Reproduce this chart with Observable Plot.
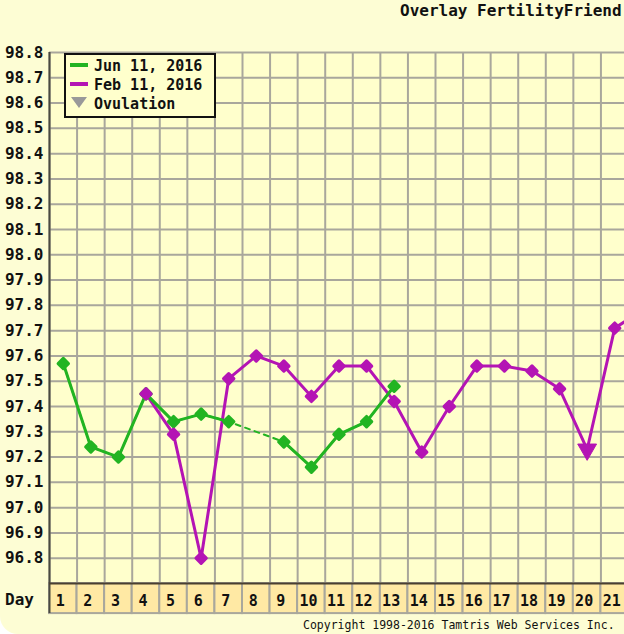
<!DOCTYPE html>
<html>
<head>
<meta charset="utf-8">
<script src="https://cdn.jsdelivr.net/npm/d3@7"></script>
<script src="https://cdn.jsdelivr.net/npm/@observablehq/plot@0.6"></script>
<style>
  html, body { margin: 0; padding: 0; background: #ffffff; overflow: hidden; }
  #wrap { position: relative; width: 624px; height: 634px; overflow: hidden;
          background: #fdfdd4; border-bottom-left-radius: 18px;
          font-family: "DejaVu Sans Mono", monospace; font-weight: bold; color: #111; }
  #title { position: absolute; left: 400px; top: 1px; font-size: 16px; white-space: nowrap; }
  #chart { position: absolute; left: 0; top: 30px; }
  #daylbl { position: absolute; left: 5px; top: 590px; font-size: 16px; }
  #copy { position: absolute; left: 303px; top: 618px; font-size: 11.5px; font-weight: normal; white-space: nowrap; }
  #legend { position: absolute; left: 64px; top: 53px; width: 148px; height: 61px;
            border: 2px solid #111; background: #ffffcc; font-size: 15px; }
  .row { position: absolute; left: 4px; height: 18px; line-height: 18px; white-space: nowrap; }
  .sw { display: inline-block; width: 18px; height: 4px; vertical-align: middle; margin-right: 6px; position: relative; top: -2px; }
  .tri { display: inline-block; width: 0; height: 0; border-left: 8px solid transparent; border-right: 8px solid transparent;
         border-top: 11px solid #999; margin: 0 7px 0 1px; vertical-align: middle; position: relative; top: -2px; }
</style>
</head>
<body>
<div id="wrap">
  <div id="title">Overlay FertilityFriend</div>
  <div id="chart"></div>
  <div id="daylbl">Day</div>
  <div id="legend"></div>
  <div id="copy">Copyright 1998-2016 Tamtris Web Services Inc.</div>
</div>
<script>
// ---- data ----
const dayLabels = [1,2,3,4,5,6,7,8,9,10,11,12,13,14,15,16,17,18,19,20,21];
const yTickValues = [96.8,96.9,97.0,97.1,97.2,97.3,97.4,97.5,97.6,97.7,97.8,97.9,98.0,98.1,98.2,98.3,98.4,98.5,98.6,98.7,98.8];

const junDays  = [1,2,3,4,5,6,7,8,9,10,11,12,13];
const junTemps = [97.57,97.24,97.20,97.45,97.34,97.37,97.34,null,97.26,97.16,97.29,97.34,97.48];

const febDays  = [4,5,6,7,8,9,10,11,12,13,14,15,16,17,18,19,20,21,22];
const febTemps = [97.45,97.29,96.80,97.51,97.60,97.56,97.44,97.56,97.56,97.42,97.22,97.40,97.56,97.56,97.54,97.47,97.23,97.71,97.78];

const ovulationDays = [20];   // Feb 11, 2016 cycle

const seriesNames = ["Jun 11, 2016", "Feb 11, 2016", "Ovulation"];
const seriesColors = ["#22b422", "#b414b4", "#999999"];

// ---- build tables ----
const jun = junDays.map((d, i) => ({day: d, temp: junTemps[i]}));
const feb = febDays.map((d, i) => ({day: d, temp: febTemps[i]}));
const junDefined = jun.filter(d => d.temp != null);
const febOv = feb.filter(d => ovulationDays.includes(d.day));
const febMarks = feb.filter(d => !ovulationDays.includes(d.day));

const GREEN = seriesColors[0], MAG = seriesColors[1];
const yMin = 96.7, yMax = 98.8;
const bandDepth = 0.119; // depth of the "Day" row below the plot, in temperature units
const gridColor = "#a9a79c";
const font = "DejaVu Sans Mono";

const cells = dayLabels.map(d => ({day: d}));
const gridX = [0.5, ...dayLabels.map(d => d + 0.5)];

const chart = Plot.plot({
  width: 624,
  height: 585,
  marginTop: 22,
  marginBottom: 32,
  marginLeft: 49,
  marginRight: 0,
  style: {background: "transparent", fontFamily: font, fontWeight: "bold", overflow: "hidden"},
  x: {domain: [0.5, 21.5], range: [49, 628], axis: null},
  y: {domain: [yMin, yMax], axis: null},
  marks: [
    Plot.rect([{}], {x1: 0.5, x2: 21.5, y1: yMin, y2: yMax, fill: "#ffffcc"}),
    Plot.rect(cells, {x1: d => d.day - 0.5, x2: d => d.day + 0.5, y1: yMin, y2: yMin - bandDepth,
                      fill: "#ffe9a4", stroke: gridColor, strokeWidth: 2}),
    Plot.ruleY(yTickValues, {stroke: gridColor, strokeWidth: 2}),
    Plot.ruleX(gridX, {y1: yMin, y2: yMax, stroke: gridColor, strokeWidth: 2}),
    Plot.ruleX([0.5], {y1: yMin - bandDepth, y2: yMax, stroke: "#4a4a40", strokeWidth: 2}),
    Plot.ruleY([yMin], {stroke: "#4a4030", strokeWidth: 2}),
    Plot.axisY({ticks: yTickValues, tickSize: 0, tickPadding: 6, tickFormat: d3.format(".1f"),
                fontSize: 16, fontWeight: "bold", fill: "#111", label: null}),
    Plot.axisX({ticks: dayLabels, tickSize: 0, tickPadding: 12, dx: -3, tickFormat: d => String(d),
                fontSize: 15, fontWeight: "bold", fill: "#111", label: null}),
    // Feb 11 line
    Plot.line(feb, {x: "day", y: "temp", stroke: MAG, strokeWidth: 3, clip: true}),
    // Jun 11 line (dashed across the missing day, solid elsewhere)
    Plot.line(junDefined, {x: "day", y: "temp", stroke: GREEN, strokeWidth: 2, strokeDasharray: "5,5", clip: true}),
    Plot.line(jun, {x: "day", y: "temp", stroke: GREEN, strokeWidth: 3, clip: true}),
    Plot.dot(junDefined, {x: "day", y: "temp", symbol: "diamond2", r: 4.6, fill: GREEN, stroke: GREEN, strokeWidth: 3.2, strokeLinejoin: "round"}),
    Plot.dot(febMarks, {x: "day", y: "temp", symbol: "diamond2", r: 4.6, fill: MAG, stroke: MAG, strokeWidth: 3.2, strokeLinejoin: "round", clip: true}),
    Plot.dot(febOv, {x: "day", y: "temp", symbol: "triangle", r: 7, rotate: 180, fill: MAG, stroke: MAG, strokeWidth: 1})
  ]
});
document.getElementById("chart").appendChild(chart);

// legend
const lg = document.getElementById("legend");
seriesNames.forEach((name, i) => {
  const row = document.createElement("div");
  row.className = "row";
  row.style.top = (2 + i * 19) + "px";
  if (i < 2) {
    row.innerHTML = `<span class="sw" style="background:${seriesColors[i]}"></span>${name}`;
  } else {
    row.innerHTML = `<span class="tri" style="border-top-color:${seriesColors[i]}"></span>${name}`;
  }
  lg.appendChild(row);
});
</script>
</body>
</html>
